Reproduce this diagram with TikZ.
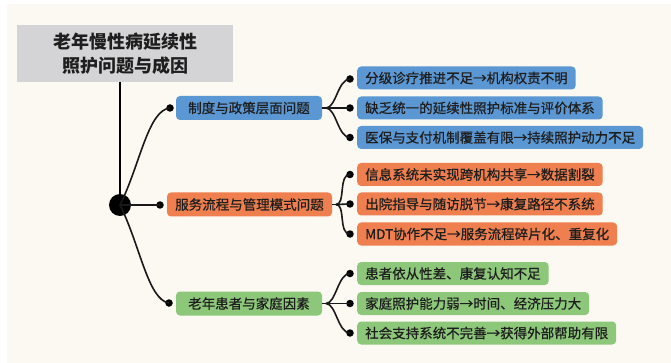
\documentclass[tikz,border=0pt]{standalone}
\usepackage{fontspec}
\setmainfont{Noto Sans CJK SC}
\newfontfamily\medfont{Noto Sans CJK SC}[FakeBold=0.6]
\definecolor{bgcream}{HTML}{FBF9F1}
\definecolor{titlegray}{HTML}{D4D4D6}
\definecolor{bblue}{HTML}{5B97D2}
\definecolor{borange}{HTML}{EF7F4E}
\definecolor{bgreen}{HTML}{8CC77A}
\definecolor{ink}{HTML}{1E1E1E}
\tikzset{
  x=1pt, y=-1pt,
  titlebox/.style={fill=titlegray, minimum width=216pt, minimum height=57pt, align=center,
    font=\fontsize{18}{24}\selectfont\bfseries, text=ink, inner sep=0pt},
  branchbox/.style={rounded corners=4pt, minimum height=24pt, minimum width=146pt, inner sep=0pt,
    font=\medfont\fontsize{13.5}{16}\selectfont, text=ink},
  leafbox/.style={rounded corners=4pt, minimum height=23pt, inner xsep=8pt, inner ysep=0pt, anchor=west,
    font=\medfont\fontsize{13.5}{16}\selectfont, text=ink},
  dotnode/.style={circle, fill=black, inner sep=0pt, minimum size=7.5pt},
  conn/.style={draw=black!90, line width=1.6pt},
}
\begin{document}
\begin{tikzpicture}
\fill[white] (0,0) rectangle (671,363);
\fill[bgcream] (7,4) rectangle (671,363);
\useasboundingbox (0,0) rectangle (671,363);

% title
\node[titlebox] (title) at (125,53.5) {老年慢性病延续性\\照护问题与成因};
\coordinate (tb) at (120,82);
\node[circle, fill=black, inner sep=0pt, minimum size=22pt] (hub) at (120,205) {};
\draw[line width=1.3pt] (tb) -- (hub.center);

% branch dots
\node[dotnode] (d1) at (170,108) {};
\node[dotnode] (d2) at (160,205) {};
\node[dotnode] (d3) at (169,303) {};

% branch boxes
\node[branchbox, fill=bblue] (b1) at (249,108) {制度与政策层面问题};
\node[branchbox, fill=borange, minimum width=165pt] (b2) at (249.5,204.5) {服务流程与管理模式问题};
\node[branchbox, fill=bgreen] (b3) at (249,303.5) {老年患者与家庭因素};

\draw[conn] (hub.center) .. controls (140,165) and (148,110) .. (d1.center);
\draw[conn] (hub.center) -- (d2.center);
\draw[conn] (hub.center) .. controls (140,245) and (148,300) .. (d3.center);

% leaf boxes
\node[leafbox, fill=bblue] (l11) at (357,78) {分级诊疗推进不足→机构权责不明};
\node[leafbox, fill=bblue] (l12) at (357,108) {缺乏统一的延续性照护标准与评价体系};
\node[leafbox, fill=bblue] (l13) at (357,137.5) {医保与支付机制覆盖有限→持续照护动力不足};
\node[leafbox, fill=borange] (l21) at (357,174.5) {信息系统未实现跨机构共享→数据割裂};
\node[leafbox, fill=borange] (l22) at (357,204) {出院指导与随访脱节→康复路径不系统};
\node[leafbox, fill=borange] (l23) at (357,234) {MDT协作不足→服务流程碎片化、重复化};
\node[leafbox, fill=bgreen] (l31) at (357,273.5) {患者依从性差、康复认知不足};
\node[leafbox, fill=bgreen] (l32) at (357,303.5) {家庭照护能力弱→时间、经济压力大};
\node[leafbox, fill=bgreen] (l33) at (357,333) {社会支持系统不完善→获得外部帮助有限};

% leaf dots
\foreach \n/\yy in {11/79,12/108,13/137.5,21/174.5,22/204,23/234,31/273.5,32/303.5,33/333}{
  \node[dotnode] (e\n) at (350,\yy) {};
}

% forks
\coordinate (f1) at (326,108);
\coordinate (f2) at (336,204.5);
\coordinate (f3) at (326,303.5);
\draw[conn] (b1.east) -- (f1);
\draw[conn] (b2.east) -- (f2);
\draw[conn] (b3.east) -- (f3);
\foreach \f/\a/\b/\c in {f1/e11/e12/e13, f2/e21/e22/e23, f3/e31/e32/e33}{
  \draw[conn] (\f) .. controls +(10,0) and +(-12,0) .. (\a.center);
  \draw[conn] (\f) -- (\b.center);
  \draw[conn] (\f) .. controls +(10,0) and +(-12,0) .. (\c.center);
}
\end{tikzpicture}
\end{document}
